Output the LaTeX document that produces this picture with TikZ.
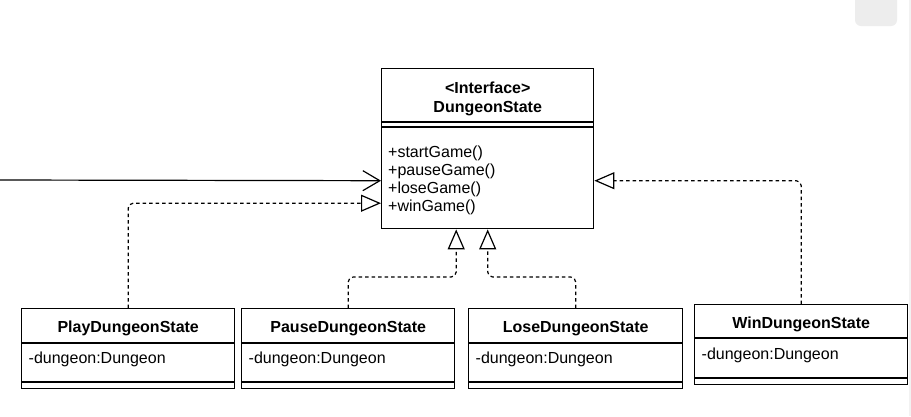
\documentclass[tikz,border=0pt]{standalone}
\usepackage{fontspec}
\setmainfont{Liberation Sans}
\usetikzlibrary{arrows.meta,calc}
\begin{document}
\begin{tikzpicture}[x=1pt,y=-1pt,
  classbox/.style={draw=black,line width=1.4pt,inner sep=0pt,anchor=north west,minimum width=#1,minimum height=80pt},
  sepline/.style={draw=black,line width=1.3pt},
  hdr/.style={font=\fontsize{16}{18}\selectfont\bfseries,inner sep=0pt,anchor=base},
  attr/.style={font=\fontsize{16}{18}\selectfont,inner sep=0pt,anchor=base west},
  realize/.style={draw=black,line width=1.2pt,dash pattern=on 3.5pt off 3pt,rounded corners=5pt,
     -{Triangle[open,length=20pt,width=17pt,line width=1.2pt]}},
  assoc/.style={draw=black,line width=1.2pt,-{Straight Barb[length=17pt,width=20pt,line width=1.2pt]}}
]
\useasboundingbox (0,0) rectangle (911,416);
\fill[white] (0,0) rectangle (911,416);
% UI artefacts
\fill[black!7,rounded corners=6pt] (855,-12) rectangle (897,26);
\fill[black!5] (909,0) rectangle (911,416);

% interface
\node[draw=black,line width=1.4pt,inner sep=0pt,anchor=north west,minimum width=212pt,minimum height=160pt] (iface) at (381,68) {};
\draw[sepline] ($(iface.north west)+(0,54)$) -- ($(iface.north east)+(0,54)$);
\draw[sepline] ($(iface.north west)+(0,59)$) -- ($(iface.north east)+(0,59)$);
\node[hdr] (ititle1) at ($(iface.north)+(0,25.5)$) {<Interface>};
\node[hdr] (ititle2) at ($(iface.north)+(0,44)$) {DungeonState};
\node[attr] (m1) at ($(iface.north west)+(7,89)$) {+startGame()};
\node[attr] (m2) at ($(iface.north west)+(7,107)$) {+pauseGame()};
\node[attr] (m3) at ($(iface.north west)+(7,125)$) {+loseGame()};
\node[attr] (m4) at ($(iface.north west)+(7,143)$) {+winGame()};

% classes
\node[classbox=213pt] (play) at (21,308) {};
\node[classbox=213pt] (pause) at (241,308) {};
\node[classbox=214pt] (lose) at (468,308) {};
\node[classbox=213pt] (win) at (694,304) {};

\foreach \c/\t/\s in {play/PlayDungeonState/35,pause/PauseDungeonState/35,lose/LoseDungeonState/35,win/WinDungeonState/34}{
  \draw[sepline] ($(\c.north west)+(0,\s)$) -- ($(\c.north east)+(0,\s)$);
  \draw[sepline] ($(\c.north west)+(0,74)$) -- ($(\c.north east)+(0,74)$);
  \node[hdr] (\c-name) at ($(\c.north)+(0,24)$) {\t};
  \node[attr] (\c-attr) at ($(\c.north west)+(7.5,55)$) {-dungeon:Dungeon};
}

% connectors
\coordinate (src) at (0,180);
\draw[assoc] (src) -- ($(iface.west)+(0,32)$);
\draw[realize] (play.north) |- ($(iface.west)+(0,54.5)$);
\draw[realize] (pause.north) -- ++(0,-31) -| ($(iface.south)+(-31.5,0)$);
\draw[realize] (lose.north) -- ++(0,-31) -| (iface.south);
\draw[realize] (win.north) |- ($(iface.east)+(0,32)$);
\end{tikzpicture}
\end{document}
